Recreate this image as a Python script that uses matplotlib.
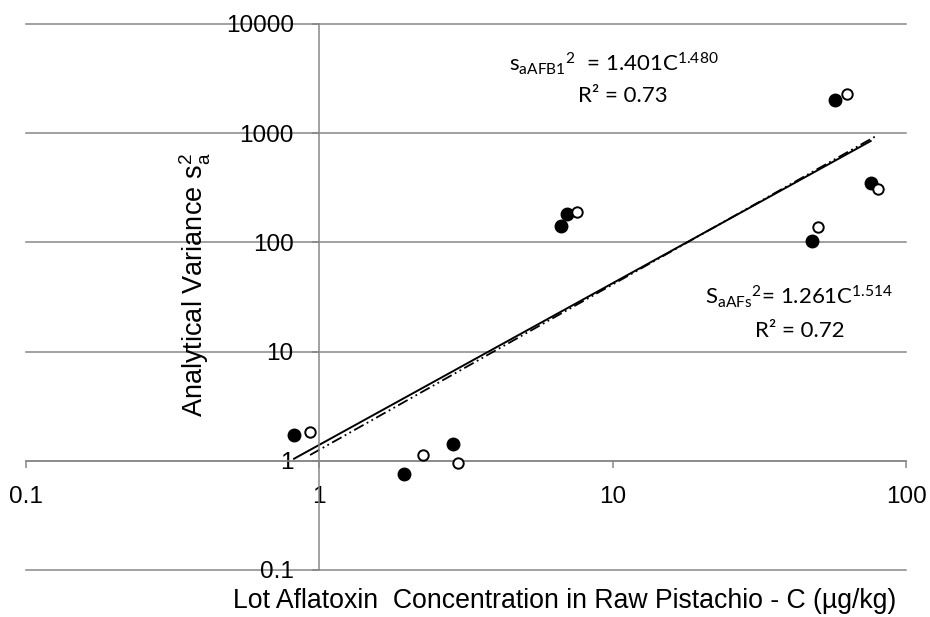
import numpy as np
import matplotlib
matplotlib.use('Agg')
import matplotlib.pyplot as plt
from matplotlib import ticker

plt.rcParams.update({
    'font.family': ['Liberation Sans', 'DejaVu Sans'],
    'mathtext.default': 'regular',
})

# Lot concentration C (ug/kg) vs analytical variance, AFB1 (filled) and total AFs (open)
conc_afb1 = [0.82, 1.94, 2.85, 6.67, 6.98, 47.9, 57.3, 75.8]
var_afb1 = [1.74, 0.76, 1.43, 142, 181, 102, 2015, 352]
conc_afs = [0.93, 2.26, 2.97, 7.55, 50.2, 63.1, 80.1]
var_afs = [1.84, 1.12, 0.96, 191, 139, 2287, 307]

# power-law fits  s^2 = a * C^b  (a, b, R^2)
fit_afb1 = (1.401, 1.480, 0.73)
fit_afs = (1.261, 1.514, 0.72)

GRID = '#878787'
W, H = 930, 617


def fpos(x, y):
    """pixel position -> figure fraction"""
    return x / W, 1 - y / H


fig = plt.figure(figsize=(W / 100, H / 100), dpi=100)
ax = fig.add_axes([26 / W, 47 / H, 880 / W, 546 / H])
ax.set_xscale('log')
ax.set_yscale('log')
ax.set_xlim(0.1, 100)
ax.set_ylim(0.1, 10000)

# axes cross at (1, 1)
ax.spines['left'].set_position(('data', 1))
ax.spines['bottom'].set_position(('data', 1))
for side in ['top', 'right']:
    ax.spines[side].set_visible(False)
for side in ['left', 'bottom']:
    ax.spines[side].set_color(GRID)
    ax.spines[side].set_linewidth(1.1)

for axis in [ax.xaxis, ax.yaxis]:
    axis.set_major_locator(ticker.LogLocator(base=10, numticks=12))
    axis.set_minor_locator(ticker.NullLocator())
    axis.set_major_formatter(ticker.FuncFormatter(lambda v, _: f'{v:g}'))
ax.tick_params(axis='both', direction='out', length=5, width=1.1, color=GRID,
               labelsize=17.5, labelcolor='black')
ax.tick_params(axis='x', pad=13.5)
ax.tick_params(axis='y', pad=13.5)

ax.yaxis.grid(True, color=GRID, lw=1.1)
ax.set_axisbelow(True)
for gl in ax.get_ygridlines():
    gl.set_clip_on(False)

# data points
ax.plot(conc_afb1, var_afb1, 'o', ms=9, color='black', zorder=3, clip_on=False)
ax.plot(conc_afs, var_afs, 'o', ms=7.5, mfc='white', mec='black', mew=1.4,
        zorder=3, clip_on=False)

# fitted trend lines over each data range
c1 = np.geomspace(min(conc_afb1), max(conc_afb1), 100)
ax.plot(c1, fit_afb1[0] * c1 ** fit_afb1[1], color='black', lw=1.4, zorder=2)
c2 = np.geomspace(min(conc_afs), max(conc_afs), 100)
ax.plot(c2, fit_afs[0] * c2 ** fit_afs[1], color='black', lw=1.3, zorder=2,
        ls=(0, (6, 2, 1, 2, 1, 2)))

# equations
eq_font = dict(family=['Lato', 'DejaVu Sans'], fontsize=16, ha='center', va='baseline')
fig.text(*fpos(614, 71), r'$s_{aAFB1}{}^{2}$  = ' + f'{fit_afb1[0]:.3f}C$^{{{fit_afb1[1]:.3f}}}$', **eq_font)
fig.text(*fpos(623, 102), f'R² = {fit_afb1[2]:.2f}', **eq_font)
fig.text(*fpos(799, 304), r'$S_{aAFs}{}^{2}$= ' + f'{fit_afs[0]:.3f}C$^{{{fit_afs[1]:.3f}}}$', **eq_font)
fig.text(*fpos(800, 337), f'R² = {fit_afs[2]:.2f}', **eq_font)

# axis titles
fig.text(*fpos(565, 601), 'Lot Aflatoxin  Concentration in Raw Pistachio - C (µg/kg)',
         fontsize=19.2, ha='center', va='center')
fig.text(*fpos(195, 285), r'Analytical Variance s$_{a}^{2}$', fontsize=19.5,
         rotation=90, ha='center', va='center')

fig.savefig('out.png', dpi=100)
